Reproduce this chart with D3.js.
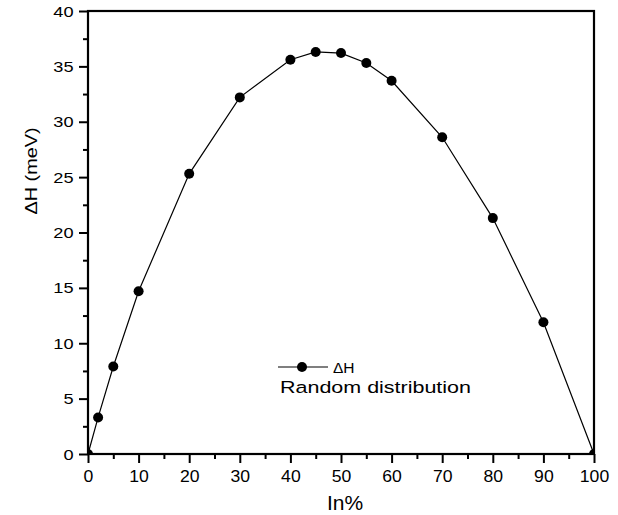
<!DOCTYPE html>
<html>
<head>
<meta charset="utf-8">
<script src="https://cdn.jsdelivr.net/npm/d3@7"></script>
<style>
  html, body { margin: 0; padding: 0; background: #fff; }
  svg { display: block; }
  text { font-family: "Liberation Sans", Arial, Helvetica, sans-serif; fill: #000; }
</style>
</head>
<body>
<svg id="chart" width="618" height="515"></svg>
<script>
// ---- data ----
const inPercent = [0, 2, 5, 10, 20, 30, 40, 45, 50, 55, 60, 70, 80, 90, 100];
const deltaH    = [0, 3.3, 7.9, 14.7, 25.3, 32.2, 35.6, 36.3, 36.2, 35.3, 33.7, 28.6, 21.3, 11.9, 0];
const xMajorTicks = [0, 10, 20, 30, 40, 50, 60, 70, 80, 90, 100];
const xMinorTicks = [5, 15, 25, 35, 45, 55, 65, 75, 85, 95];
const yMajorTicks = [0, 5, 10, 15, 20, 25, 30, 35, 40];
const yMinorTicks = [2.5, 7.5, 12.5, 17.5, 22.5, 27.5, 32.5, 37.5];
const xLabel = "In%";
const yLabel = "\u0394H (meV)";
const legendSeries = "\u0394H";
const legendNote = "Random distribution";

// ---- layout ----
const L = 88, R = 594, T = 11, B = 454;
const svg = d3.select("#chart");
const x = d3.scaleLinear().domain([0, 100]).range([L, R]);
const y = d3.scaleLinear().domain([0, 40]).range([B, T]);

svg.append("defs").append("clipPath").attr("id", "plotClip")
  .append("rect").attr("x", L).attr("y", T).attr("width", R - L).attr("height", B - T);

const data = inPercent.map((v, i) => ({ x: v, y: deltaH[i] }));

// line
const line = d3.line().x(d => x(d.x)).y(d => y(d.y));
svg.append("path").datum(data)
  .attr("d", line).attr("fill", "none").attr("stroke", "#000").attr("stroke-width", 1.2);

// markers (clipped)
svg.append("g").attr("clip-path", "url(#plotClip)")
  .selectAll("circle").data(data).join("circle")
  .attr("cx", d => x(d.x)).attr("cy", d => y(d.y)).attr("r", 5).attr("fill", "#000");

// axes
function styleAxis(g) {
  g.select(".domain").remove();
  g.selectAll(".tick line").attr("stroke", "#000").attr("stroke-width", 2);
}
const xAxis = svg.append("g").attr("transform", `translate(0,${B})`)
  .call(d3.axisBottom(x).tickValues(xMajorTicks).tickSize(9).tickFormat(d3.format("d")));
styleAxis(xAxis);
xAxis.selectAll(".tick text")
  .attr("y", 28).attr("dy", 0)
  .style("font-size", "16px")
  .attr("transform", "scale(1.1,1)");

const xAxisMinor = svg.append("g").attr("transform", `translate(0,${B})`)
  .call(d3.axisBottom(x).tickValues(xMinorTicks).tickSize(5).tickFormat(""));
styleAxis(xAxisMinor);

const yAxis = svg.append("g").attr("transform", `translate(${L},0)`)
  .call(d3.axisLeft(y).tickValues(yMajorTicks).tickSize(9).tickFormat(d3.format("d")));
styleAxis(yAxis);
yAxis.selectAll(".tick text")
  .attr("x", 0).attr("dy", "0.36em")
  .style("font-size", "14px")
  .attr("transform", "translate(-14.5,0) scale(1.3,1)");

const yAxisMinor = svg.append("g").attr("transform", `translate(${L},0)`)
  .call(d3.axisLeft(y).tickValues(yMinorTicks).tickSize(5).tickFormat(""));
styleAxis(yAxisMinor);

// frame
svg.append("rect").attr("x", L).attr("y", T).attr("width", R - L).attr("height", B - T)
  .attr("fill", "none").attr("stroke", "#000").attr("stroke-width", 2.2);

// axis labels
svg.append("text").attr("x", 345).attr("y", 510).attr("text-anchor", "middle")
  .style("font-size", "21px").text(xLabel);
svg.append("text")
  .attr("transform", "translate(37,171) rotate(-90)")
  .attr("text-anchor", "middle").style("font-size", "17px")
  .attr("textLength", 87).attr("lengthAdjust", "spacingAndGlyphs")
  .text(yLabel);

// legend
const lg = svg.append("g");
lg.append("line").attr("x1", 278).attr("x2", 328).attr("y1", 367).attr("y2", 367)
  .attr("stroke", "#000").attr("stroke-width", 1.2);
lg.append("circle").attr("cx", 302).attr("cy", 367).attr("r", 5).attr("fill", "#000");
lg.append("text").attr("x", 333).attr("y", 373).style("font-size", "15.5px")
  .text(legendSeries);
lg.append("text").attr("x", 280).attr("y", 393).style("font-size", "16.3px")
  .attr("textLength", 191).attr("lengthAdjust", "spacingAndGlyphs").text(legendNote);
</script>
</body>
</html>
